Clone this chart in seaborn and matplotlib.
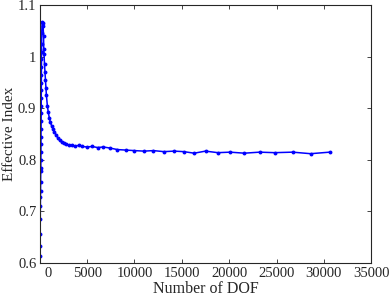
import matplotlib
matplotlib.use("Agg")
import matplotlib.pyplot as plt
import matplotlib.transforms as mtransforms
import seaborn as sns
import pandas as pd

# --- Data ---
# rising branch near DOF ~ 0, then the converging tail
dof = [20, 30, 40, 50, 60, 70, 80, 90, 100, 110, 115, 120, 125, 130, 135, 140,
       145, 150, 155, 160, 165, 170, 175, 180, 185, 190, 200, 250, 300, 350,
       400, 420, 450, 500, 550, 600, 650, 700, 800, 900, 1000, 1100, 1250,
       1400, 1550, 1700, 1900, 2100, 2300, 2550, 2800, 3100, 3400, 3700, 4100,
       4500, 5000, 5500, 6100, 6700, 7400, 8200, 9100, 10000, 11000, 12000,
       13100, 14200, 15200, 16300, 17500, 18800, 20100, 21600, 23200, 24800,
       26700, 28600, 30600]
index = [0.613, 0.634, 0.656, 0.685, 0.71, 0.729, 0.739, 0.757, 0.778, 0.785,
         0.80, 0.816, 0.83, 0.845, 0.86, 0.875, 0.89, 0.905, 0.92, 0.935, 0.95,
         0.965, 0.98, 0.995, 1.01, 1.025, 1.045, 1.067, 1.065, 1.06, 1.04,
         1.015, 1.005, 0.985, 0.97, 0.955, 0.94, 0.925, 0.905, 0.892, 0.882,
         0.874, 0.866, 0.86, 0.855, 0.849, 0.843, 0.838, 0.835, 0.832, 0.830,
         0.829, 0.828, 0.827, 0.828, 0.826, 0.825, 0.826, 0.824, 0.825, 0.823,
         0.820, 0.819, 0.818, 0.817, 0.818, 0.816, 0.817, 0.816, 0.813, 0.817,
         0.814, 0.815, 0.813, 0.815, 0.814, 0.815, 0.812, 0.815]

x_ticks = [0, 5000, 10000, 15000, 20000, 25000, 30000, 35000]
y_ticks = [0.6, 0.7, 0.8, 0.9, 1.0, 1.1]
y_tick_labels = ['0.6', '0.7', '0.8', '0.9', '1', '1.1']

df = pd.DataFrame({'dof': dof, 'index': index})

sns.set_theme(style='white')
plt.rcParams['font.family'] = ['Liberation Serif', 'DejaVu Serif']

fig = plt.figure(figsize=(3.9, 3.01), dpi=100)
ax = fig.add_axes([0.102, 0.126, 0.850, 0.857])

sns.lineplot(data=df, x='dof', y='index', ax=ax, sort=False, color='#0000ff',
             linewidth=1.1, marker='o', markersize=2.8, markeredgewidth=0,
             estimator=None)

ax.set_xlim(0, 35000)
ax.set_ylim(0.6, 1.1)
ax.set_xticks(x_ticks)
ax.set_xticklabels([str(t) for t in x_ticks])
ax.set_yticks(y_ticks)
ax.set_yticklabels(y_tick_labels)
ax.tick_params(direction='in', length=3, width=0.6, labelsize=10.5, colors='#262626',
               top=True, right=True, bottom=True, left=True, pad=2.5)
ax.set_xlabel('Number of DOF', fontsize=11.5, color='#262626', labelpad=1)
ax.set_ylabel('Effective Index', fontsize=11, color='#262626', labelpad=1)
ax.yaxis.set_label_coords(-0.072, 0.5)

# the "0" label in the reference sits a little right of the axis edge
first = ax.get_xticklabels()[0]
first.set_transform(first.get_transform() +
                    mtransforms.ScaledTranslation(0.08, 0, fig.dpi_scale_trans))

for s in ax.spines.values():
    s.set_linewidth(0.8)
    s.set_color('#262626')

fig.savefig('out.png', dpi=100)
